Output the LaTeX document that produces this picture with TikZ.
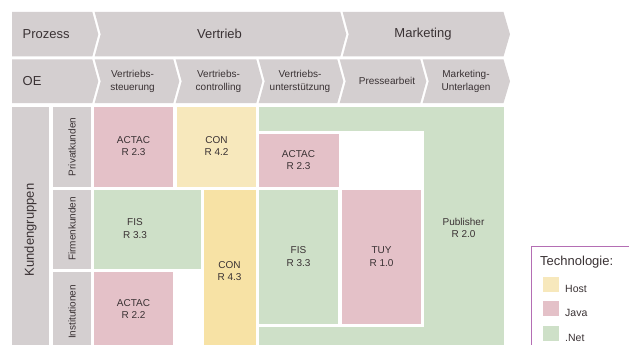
\documentclass[tikz,border=0pt]{standalone}
\usepackage{fontspec}
\setmainfont{Liberation Sans}
\definecolor{hdr}{RGB}{212,207,208}
\definecolor{pinkc}{RGB}{228,193,200}
\definecolor{ylight}{RGB}{247,232,188}
\definecolor{ydark}{RGB}{247,226,165}
\definecolor{greenc}{RGB}{206,224,200}
\definecolor{txt}{RGB}{58,50,52}
\definecolor{legb}{RGB}{180,110,180}
\begin{document}
\begin{tikzpicture}[x=1pt,y=-1pt,
  big/.style={font=\fontsize{13}{15}\selectfont,text=txt,inner sep=0pt},
  mid/.style={font=\fontsize{10}{13}\selectfont,text=txt,align=center,inner sep=0pt},
  cell/.style={font=\fontsize{10}{12.3}\selectfont,text=txt,align=center,inner sep=0pt},
  leg/.style={font=\fontsize{10.5}{12}\selectfont,text=txt,anchor=west,inner sep=0pt}]
\clip (0,0) rectangle (629,345);
\fill[white] (0,0) rectangle (629,345);
% ---- row 1 chevrons
\fill[hdr] (12,12) -- (92.3,12) -- (98.3,34.3) -- (92.3,56.5) -- (12,56.5) -- cycle;
\fill[hdr] (94.7,12) -- (340.3,12) -- (346.3,34.3) -- (340.3,56.5) -- (94.7,56.5) -- (100.7,34.3) -- cycle;
\fill[hdr] (342.7,12) -- (503.5,12) -- (510,34.3) -- (503.5,56.5) -- (342.7,56.5) -- (348.7,34.3) -- cycle;
% ---- row 2 chevrons
\fill[hdr] (12,59.5) -- (92.3,59.5) -- (98.3,81.3) -- (92.3,103) -- (12,103) -- cycle;
\foreach \a/\b in {93.5/174.5,174.5/257.5,257.5/338.5,338.5/421.5}{
  \fill[hdr] (\a+1.2,59.5) -- (\b-1.2,59.5) -- (\b+4.8,81.3) -- (\b-1.2,103) -- (\a+1.2,103) -- (\a+7.2,81.3) -- cycle;}
\fill[hdr] (422.7,59.5) -- (503.5,59.5) -- (510,81.3) -- (503.5,103) -- (422.7,103) -- (428.7,81.3) -- cycle;
% ---- header texts
\node[big,anchor=west] (prozess) at (22.5,34.3) {Prozess};
\node[big,anchor=west] (oe) at (22.5,81.3) {OE};
\node[big] (vertrieb) at (219.5,34.3) {Vertrieb};
\node[big] (marketing) at (423,34.3) {Marketing};
\node[mid] (vst) at (132.5,81.3) {Vertriebs-\\steuerung};
\node[mid] (vco) at (218.5,81.3) {Vertriebs-\\controlling};
\node[mid] (vun) at (300,81.3) {Vertriebs-\\unterstützung};
\node[mid] (pre) at (387,81.3) {Pressearbeit};
\node[mid] (mun) at (466,81.3) {Marketing-\\Unterlagen};
% ---- left gray columns
\fill[hdr] (12,107) rectangle (49,345);
\fill[hdr] (53,107) rectangle (91,186.5);
\fill[hdr] (53,189.5) rectangle (91,268.5);
\fill[hdr] (53,272) rectangle (91,345);
\node[big,rotate=90] (kg) at (30.5,230) {Kundengruppen};
\node[mid,rotate=90] (pk) at (72,147) {Privatkunden};
\node[mid,rotate=90] (fk) at (72,229) {Firmenkunden};
\node[mid,rotate=90] (inst) at (72,312) {Institutionen};
% ---- body cells
\fill[pinkc] (94,107) rectangle (173.3,186.5);
\fill[ylight] (176.7,107) rectangle (256,186.5);
\fill[greenc] (94,189.5) rectangle (201,268.5);
\fill[ydark] (204,189.5) rectangle (256,345);
\fill[pinkc] (94,272) rectangle (173.3,345);
\fill[greenc] (258.5,107) rectangle (504,345);
\fill[white] (258.5,131) rectangle (424,327);
\fill[pinkc] (258.5,133.5) rectangle (339.3,187);
\fill[greenc] (258.5,189.5) rectangle (338.3,324.3);
\fill[pinkc] (341.7,189.5) rectangle (421.3,324.3);
\node[cell] (actac1) at (133.5,146) {ACTAC\\R 2.3};
\node[cell] (con42) at (216.5,146) {CON\\R 4.2};
\node[cell] (fis1) at (135,228.5) {FIS\\R 3.3};
\node[cell] (con43) at (229.5,271) {CON\\R 4.3};
\node[cell] (actac22) at (133.5,309) {ACTAC\\R 2.2};
\node[cell] (actac2) at (298.5,160) {ACTAC\\R 2.3};
\node[cell] (fis2) at (298.5,256.5) {FIS\\R 3.3};
\node[cell] (tuy) at (381.5,256.5) {TUY\\R 1.0};
\node[cell] (pub) at (463.5,228) {Publisher\\R 2.0};
% ---- legend
\draw[legb,line width=0.9pt,fill=white] (531,246) rectangle (660,370);
\node[big,anchor=west] (tech) at (540,262) {Technologie:};
\fill[ylight] (542.5,277) rectangle (559,292);
\fill[pinkc] (542.5,301) rectangle (559,316);
\fill[greenc] (542.5,326) rectangle (559,341);
\node[leg] (host) at (565,289) {Host};
\node[leg] (java) at (565,313) {Java};
\node[leg] (net) at (565,337.5) {.Net};
\end{tikzpicture}
\end{document}
